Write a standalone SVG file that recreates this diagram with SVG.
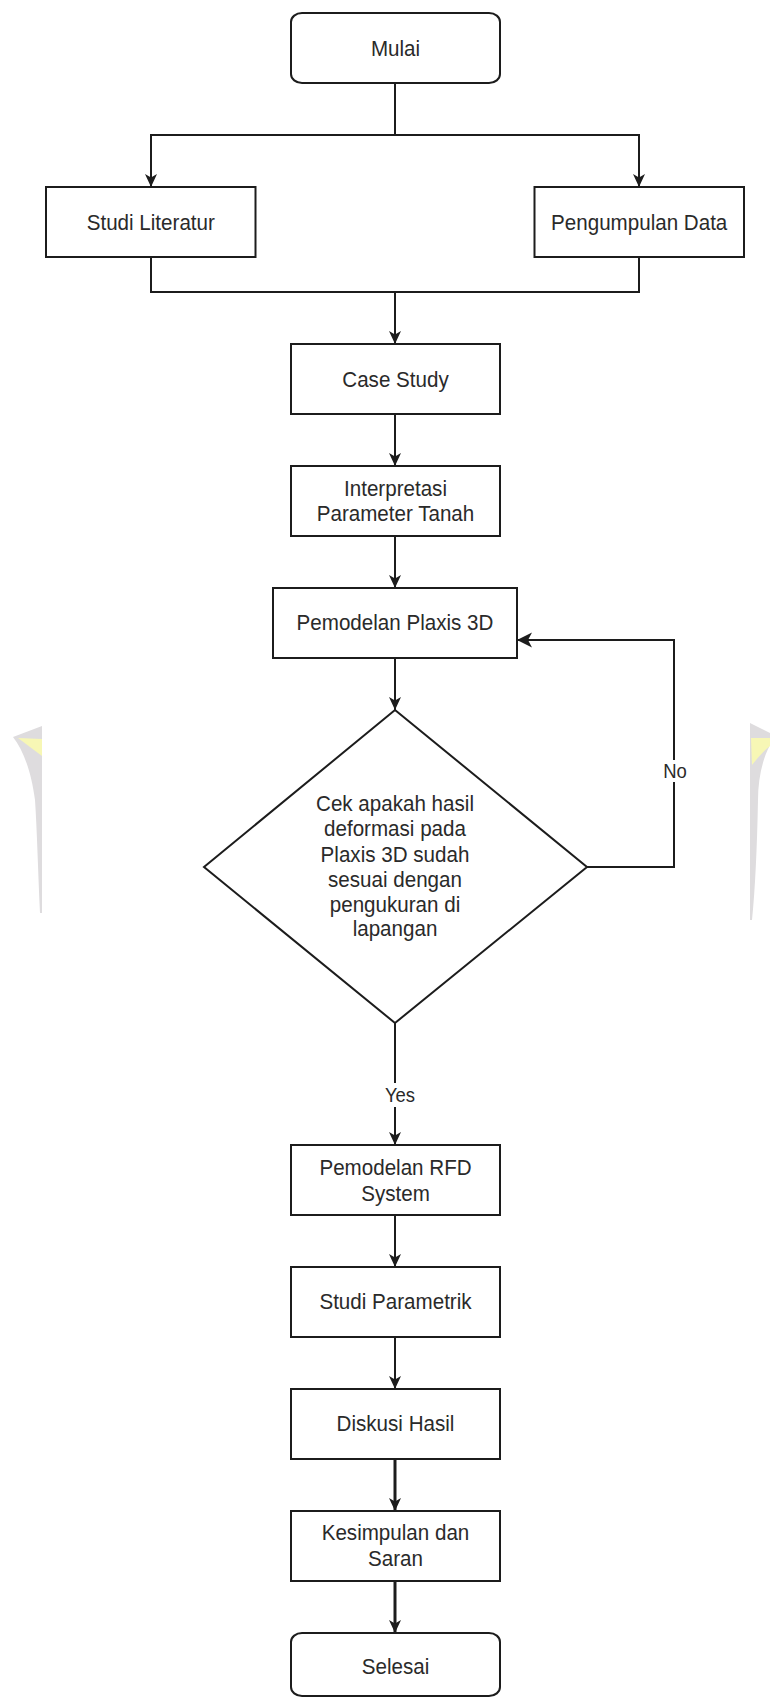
<svg xmlns="http://www.w3.org/2000/svg" width="770" height="1698" viewBox="0 0 770 1698">
<defs>
<style>
.box{fill:#ffffff;stroke:#1c1c1c;stroke-width:2}
.t{font-family:"Liberation Sans",Arial,sans-serif;font-size:20.6px;fill:#2a2a2a;text-anchor:middle;dominant-baseline:central;transform-box:fill-box;transform-origin:center;transform:scaleY(1.1)}
.lbl{font-family:"Liberation Sans",Arial,sans-serif;font-size:18.5px;fill:#2a2a2a;text-anchor:middle;dominant-baseline:central;transform-box:fill-box;transform-origin:center;transform:scaleY(1.1)}
.edge{fill:none;stroke:#1c1c1c;stroke-width:2}
.edge3{fill:none;stroke:#1c1c1c;stroke-width:3}
.wm{fill:#dedcde}
.wmy{fill:#f7f7b5}
</style>
<marker id="av" markerUnits="userSpaceOnUse" markerWidth="14" markerHeight="14" refX="13" refY="6" orient="auto">
<path d="M0,0 L13,6 L0,12 L3.5,6 Z" fill="#1c1c1c"/>
</marker>
<marker id="ah" markerUnits="userSpaceOnUse" markerWidth="16" markerHeight="16" refX="15" refY="7.5" orient="auto">
<path d="M0,0 L15,7.5 L0,15 L4,7.5 Z" fill="#1c1c1c"/>
</marker>
</defs>
<rect x="0" y="0" width="770" height="1698" fill="#ffffff"/>
<g id="watermark">
<path class="wm" d="M13,737 L42,726 L42,913 L40,913 C38,870 37,830 35,800 C31,770 23,750 13,737 Z"/>
<path class="wmy" d="M18,738 L42,739 L42,756 C34,750 26,744 18,738 Z"/>
<path class="wm" d="M750,723 L770,733 L770,745 C762,760 758,780 758,800 C757,850 755,890 752,920 L750,920 Z"/>
<path class="wmy" d="M751,738 L770,738 L770,746 C762,752 756,760 752,765 Z"/>
</g>
<g id="connectors">
<path class="edge" d="M395,83 V135 H151 V187" marker-end="url(#av)"/>
<path class="edge" d="M395,83 V135 H639 V187" marker-end="url(#av)"/>
<path class="edge" d="M151,257 V292 H395 V344" marker-end="url(#av)"/>
<path class="edge" d="M639,257 V292 H395"/>
<path class="edge" d="M395,414 V466" marker-end="url(#av)"/>
<path class="edge" d="M395,536 V588" marker-end="url(#av)"/>
<path class="edge" d="M395,658 V710" marker-end="url(#av)"/>
<path class="edge" d="M587,867 H674 V640 H517" marker-end="url(#ah)"/>
<path class="edge" d="M395,1023 V1145" marker-end="url(#av)"/>
<path class="edge" d="M395,1215 V1267" marker-end="url(#av)"/>
<path class="edge" d="M395,1337 V1389" marker-end="url(#av)"/>
<path class="edge3" d="M395,1459 V1511" marker-end="url(#av)"/>
<path class="edge3" d="M395,1581 V1633" marker-end="url(#av)"/>
<rect x="663" y="760" width="24" height="22" fill="#ffffff"/>
<text class="lbl" x="675" y="771">No</text>
<rect x="383" y="1083" width="34" height="24" fill="#ffffff"/>
<text class="lbl" x="400" y="1095">Yes</text>
</g>
<g id="mulai">
<rect class="box" x="291" y="13" width="209" height="70" rx="11" ry="9"/>
<text class="t" x="395.5" y="48">Mulai</text>
</g>
<g id="studi-literatur">
<rect class="box" x="46" y="187" width="209.5" height="70"/>
<text class="t" x="150.8" y="222">Studi Literatur</text>
</g>
<g id="pengumpulan-data">
<rect class="box" x="534.5" y="187" width="209.5" height="70"/>
<text class="t" x="639.2" y="222">Pengumpulan Data</text>
</g>
<g id="case-study">
<rect class="box" x="291" y="344" width="209" height="70"/>
<text class="t" x="395.5" y="379">Case Study</text>
</g>
<g id="interpretasi">
<rect class="box" x="291" y="466" width="209" height="70"/>
<text class="t" x="395.5" y="488">Interpretasi</text>
<text class="t" x="395.5" y="513.5">Parameter Tanah</text>
</g>
<g id="pemodelan-plaxis">
<rect class="box" x="273" y="588" width="244" height="70"/>
<text class="t" x="395" y="622.5">Pemodelan Plaxis 3D</text>
</g>
<g id="cek">
<path class="box" d="M395,710 L587,867 L395,1023 L204,867 Z"/>
<text class="t" x="395" y="803">Cek apakah hasil</text>
<text class="t" x="395" y="828.5">deformasi pada</text>
<text class="t" x="395" y="854">Plaxis 3D sudah</text>
<text class="t" x="395" y="879">sesuai dengan</text>
<text class="t" x="395" y="904">pengukuran di</text>
<text class="t" x="395" y="928.5">lapangan</text>
</g>
<g id="pemodelan-rfd">
<rect class="box" x="291" y="1145" width="209" height="70"/>
<text class="t" x="395.5" y="1167">Pemodelan RFD</text>
<text class="t" x="395.5" y="1193">System</text>
</g>
<g id="studi-parametrik">
<rect class="box" x="291" y="1267" width="209" height="70"/>
<text class="t" x="395.5" y="1301">Studi Parametrik</text>
</g>
<g id="diskusi-hasil">
<rect class="box" x="291" y="1389" width="209" height="70"/>
<text class="t" x="395.5" y="1423">Diskusi Hasil</text>
</g>
<g id="kesimpulan">
<rect class="box" x="291" y="1511" width="209" height="70"/>
<text class="t" x="395.5" y="1532.5">Kesimpulan dan</text>
<text class="t" x="395.5" y="1558">Saran</text>
</g>
<g id="selesai">
<rect class="box" x="291" y="1633" width="209" height="63" rx="11" ry="9"/>
<text class="t" x="395.5" y="1666">Selesai</text>
</g>
</svg>
